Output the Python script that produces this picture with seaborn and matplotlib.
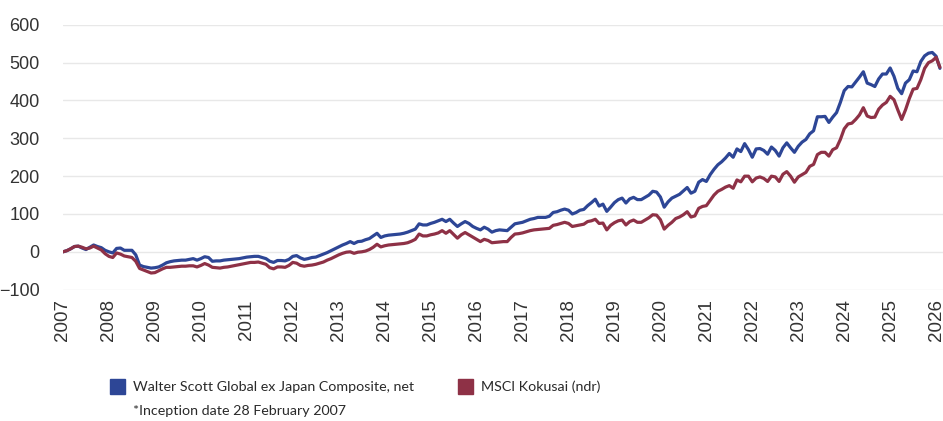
import matplotlib
matplotlib.use("Agg")
import matplotlib.pyplot as plt
from matplotlib.patches import Rectangle
import seaborn as sns
import pandas as pd

# cumulative return (%) since inception, monthly from Feb 2007
years = list(range(2007, 2027))

walter_scott = [
    0, 3, 8, 14, 15, 10, 6, 12, 18, 14, 11,
    4, 0, -3, 9, 10, 4, 4, 4, -8, -35, -39, -41,
    -43, -42, -40, -35, -29, -26, -24, -23, -22, -22, -20, -18,
    -22, -18, -13, -15, -25, -24, -24, -22, -21, -20, -19, -18,
    -16, -14, -13, -12, -12, -15, -18, -25, -28, -23, -23, -24,
    -20, -12, -10, -16, -20, -18, -15, -14, -10, -6, -2, 3,
    8, 13, 18, 22, 27, 22, 27, 28, 32, 35, 42, 49,
    38, 42, 44, 45, 46, 47, 49, 52, 56, 60, 74, 71,
    71, 75, 78, 82, 86, 80, 86, 76, 67, 74, 80, 75,
    67, 62, 58, 65, 60, 52, 56, 58, 57, 56, 65, 74,
    76, 78, 82, 86, 88, 91, 91, 91, 94, 104, 106, 110,
    113, 110, 100, 104, 110, 112, 122, 130, 139, 121, 126, 107,
    118, 130, 138, 142, 129, 140, 144, 138, 138, 144, 150, 160,
    158, 145, 118, 132, 142, 147, 152, 161, 170, 155, 160, 184,
    191, 186, 204, 218, 230, 238, 248, 260, 250, 272, 265, 286,
    270, 250, 272, 273, 268, 258, 277, 268, 253, 275, 288, 275,
    263, 279, 290, 297, 312, 320, 357, 357, 358, 342, 356, 368,
    395, 426, 437, 436, 449, 462, 476, 446, 442, 437, 457, 470,
    470, 486, 464, 432, 418, 446, 455, 478, 476, 503, 518, 525,
    527, 517, 485,
]

msci_kokusai = [
    0, 3, 8, 14, 15, 12, 8, 10, 15, 10, 5,
    -5, -12, -15, -3, -6, -11, -13, -15, -25, -44, -48, -52,
    -56, -55, -50, -45, -41, -41, -40, -39, -38, -38, -37, -37,
    -40, -36, -31, -35, -41, -42, -43, -41, -40, -38, -36, -34,
    -32, -30, -28, -28, -27, -30, -33, -42, -45, -40, -40, -41,
    -36, -28, -30, -36, -38, -36, -35, -33, -30, -27, -22, -18,
    -13, -8, -4, -1, 0, -4, -1, 0, 2, 6, 12, 20,
    13, 16, 18, 19, 20, 21, 22, 24, 28, 33, 47, 42,
    42, 45, 47, 50, 56, 49, 56, 46, 36, 45, 51, 45,
    39, 33, 27, 33, 30, 24, 25, 26, 27, 27, 38, 47,
    48, 50, 53, 56, 58, 59, 60, 61, 62, 70, 72, 75,
    78, 75, 67, 69, 71, 73, 80, 82, 86, 75, 76, 58,
    70, 77, 82, 84, 71, 80, 84, 78, 78, 84, 90, 98,
    97, 85, 60, 70, 78, 88, 92, 98, 106, 92, 95, 115,
    120, 122, 136, 150, 160, 165, 171, 175, 168, 190, 185, 200,
    200, 185, 195, 198, 194, 186, 200, 198, 186, 205, 212, 200,
    184, 198, 204, 210, 226, 231, 257, 263, 263, 253, 270, 275,
    297, 325, 338, 340, 350, 362, 381, 359, 355, 356, 377, 388,
    395, 411, 402, 375, 350, 375, 405, 430, 432, 455, 485, 500,
    505, 514, 488,
]

series_names = ["Walter Scott Global ex Japan Composite, net", "MSCI Kokusai (ndr)"]
colors = ["#2D4696", "#8E3146"]

df = pd.DataFrame({
    "month": list(range(len(walter_scott))) * 2,
    "value": walter_scott + msci_kokusai,
    "series": [series_names[0]] * len(walter_scott) + [series_names[1]] * len(msci_kokusai),
})

sns.set_style("white")
plt.rcParams["font.family"] = ["Liberation Sans", "DejaVu Sans"]

fig = plt.figure(figsize=(9.43, 4.21), dpi=100)
ax = fig.add_axes([0.0668, 0.312, 0.9332, 0.629])

sns.lineplot(data=df, x="month", y="value", hue="series", palette=colors,
             linewidth=2.3, legend=False, ax=ax)

ax.set_xlim(0, 229.8)
ax.set_ylim(-100, 600)
ax.set_yticks(range(-100, 601, 100))
ax.set_xticks([12 * i for i in range(len(years))])
ax.set_xticklabels([str(y) for y in years], rotation=90)
ax.yaxis.grid(True, color="#e8e8e8", linewidth=1)
ax.set_axisbelow(True)
for s in ax.spines.values():
    s.set_visible(False)
ax.tick_params(axis="y", length=0, pad=17, labelsize=13, labelcolor="#333333")
ax.tick_params(axis="x", length=0, pad=7, labelsize=13.5, labelcolor="#333333")
ax.set_xlabel("")
ax.set_ylabel("")

# legend below the chart
leg_font = ["Lato", "DejaVu Sans"]
fig.patches.append(Rectangle((110 / 943, 1 - 394 / 421), 15 / 943, 15 / 421,
                             transform=fig.transFigure, color=colors[0]))
fig.patches.append(Rectangle((458 / 943, 1 - 394 / 421), 15 / 943, 15 / 421,
                             transform=fig.transFigure, color=colors[1]))
fig.text(133 / 943, 1 - 387 / 421, series_names[0], fontsize=10.3,
         family=leg_font, color="#2a2a2a", va="center")
fig.text(481 / 943, 1 - 387 / 421, series_names[1], fontsize=10.3,
         family=leg_font, color="#2a2a2a", va="center")
fig.text(133 / 943, 1 - 411 / 421, "*Inception date 28 February 2007", fontsize=10.3,
         family=leg_font, color="#2a2a2a", va="center")

fig.savefig("out.png", dpi=100)
